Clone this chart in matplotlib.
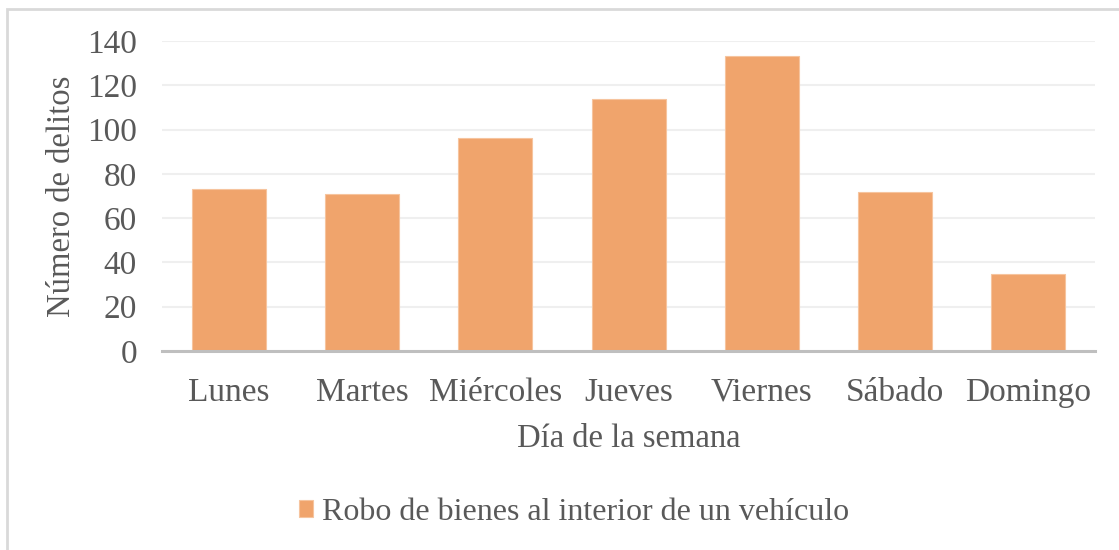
#!/usr/bin/env python3
import matplotlib
matplotlib.use("Agg")
import matplotlib.pyplot as plt
from matplotlib.patches import Rectangle

dias = ["Lunes", "Martes", "Miércoles", "Jueves", "Viernes", "Sábado", "Domingo"]
delitos = [73, 71, 96, 114, 133, 72, 35]
serie = "Robo de bienes al interior de un vehículo"

bar_color = "#F0A46C"
text_color = "#595959"

plt.rcParams['font.family'] = ['Liberation Serif', 'DejaVu Serif']

fig = plt.figure(figsize=(11.19, 5.5), dpi=100)
ax = fig.add_axes([0.1448, 0.3618, 0.9786 - 0.1448, 0.9255 - 0.3618])

ax.bar(range(len(dias)), delitos, width=0.555, color=bar_color,
       edgecolor="#F6C49E", linewidth=0.8, label=serie, zorder=3)

ax.set_xlim(-0.5, len(dias) - 0.5)
ax.set_ylim(0, 140)
ax.set_yticks(range(0, 141, 20))
ax.set_xticks(range(len(dias)))
ax.set_xticklabels(dias)
ax.yaxis.grid(True, color="#EFEFEF", linewidth=1.5, zorder=0)
ax.set_axisbelow(True)

for s in ["top", "right", "left"]:
    ax.spines[s].set_visible(False)
ax.spines["bottom"].set_color("#BFBFBF")
ax.spines["bottom"].set_linewidth(2.2)
ax.spines["bottom"].set_zorder(4)

ax.tick_params(axis="both", length=0, labelsize=24, colors=text_color)
ax.tick_params(axis="x", pad=19)
ax.tick_params(axis="y", pad=18)

ax.set_xlabel("Día de la semana", fontsize=23.5, color=text_color, labelpad=11)
ax.set_ylabel("Número de delitos", fontsize=23.5, color=text_color, labelpad=7)

leg = fig.legend(loc="center", bbox_to_anchor=(0.513, 0.068), frameon=False,
                 fontsize=23, labelcolor=text_color, handlelength=0.45,
                 handleheight=0.45, handletextpad=0.3)

fig.patches.append(Rectangle((7 / 1119, -0.1), 1.2, 1 - 8.5 / 550 + 0.1,
                             transform=fig.transFigure, fill=False,
                             edgecolor="#D9D9D9", linewidth=2))

fig.savefig("out.png", dpi=100)
